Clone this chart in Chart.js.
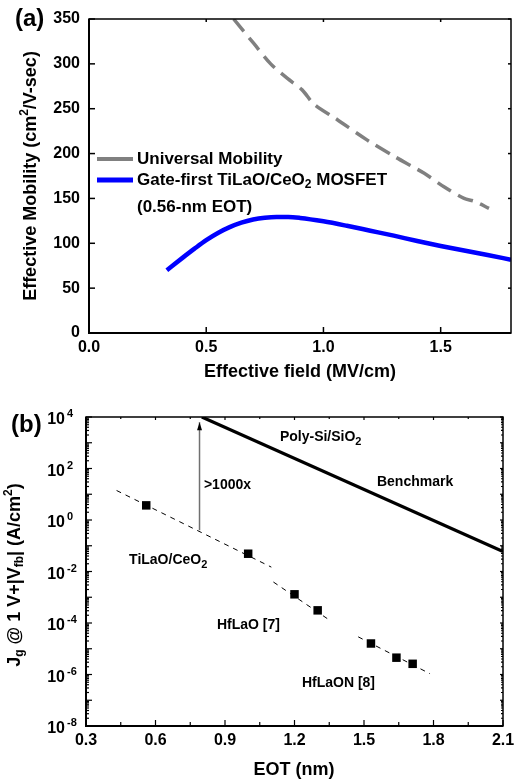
<!DOCTYPE html>
<html>
<head>
<meta charset="utf-8">
<script src="https://cdn.jsdelivr.net/npm/chart.js@4.4.0/dist/chart.umd.min.js"></script>
<style>
  body { margin: 0; background: #fff; width: 522px; height: 784px; overflow: hidden; }
  .box { position: absolute; left: 0; width: 522px; }
  #boxA { top: 0; height: 390px; }
  #boxB { top: 390px; height: 394px; }
</style>
</head>
<body>
<div class="box" id="boxA"><canvas id="chartA"></canvas></div>
<div class="box" id="boxB"><canvas id="chartB"></canvas></div>
<script>
// ---- (a) effective mobility ----
const fieldUniversal = [0.617, 0.702, 0.775, 0.845, 0.909, 0.96, 1.058, 1.187, 1.301, 1.43, 1.514, 1.6, 1.642, 1.706];
const mobUniversal   = [350, 323, 300, 284, 271, 255, 238, 215, 197, 178, 163, 150, 147, 139];
const fieldDevice = [0.332, 0.40, 0.45, 0.50, 0.55, 0.60, 0.65, 0.70, 0.75, 0.80, 0.85, 0.90, 1.0, 1.1, 1.2, 1.3, 1.4, 1.5, 1.6, 1.7, 1.8];
const mobDevice   = [70, 84, 94, 103.5, 111.5, 118, 123, 126.5, 128.5, 129.3, 129.3, 128.3, 124.5, 119.5, 114, 108.5, 102.5, 97, 92, 87, 81.6];
const mobTicks = [0, 50, 100, 150, 200, 250, 300, 350];
const fieldTicks = [0, 0.5, 1.0, 1.5];

// ---- (b) gate leakage vs EOT ----
const eotPoints = [0.56, 1.0, 1.2, 1.3, 1.53, 1.64, 1.71];
const jgPoints  = [3.7, 0.049, 1.3e-3, 3.1e-4, 1.6e-5, 4.5e-6, 2.6e-6];
const benchEot = [0.8, 2.1];
const benchJg  = [1e4, 0.06];
const fitTiLaOEot = [0.432, 1.10];
const fitTiLaOJg  = [14, 0.0148];
const fitHfLaOEot = [1.109, 1.353];
const fitHfLaOJg  = [3.9e-3, 1.26e-4];
const fitHfLaONEot = [1.475, 1.785];
const fitHfLaONJg  = [2.9e-5, 1.07e-6];
const arrowEot = [0.79, 0.79];
const arrowJg  = [0.4, 6300];
const eotTicks = [0.3, 0.6, 0.9, 1.2, 1.5, 1.8, 2.1];
const jgExponents = [4, 2, 0, -2, -4, -6, -8];

const FAM = '"Liberation Sans", Arial, sans-serif';
const font = px => 'bold ' + px + 'px ' + FAM;
const pts = (xs, ys) => xs.map((x, i) => ({ x: x, y: ys[i] }));

// text made of pieces, so sub/superscripts stay real text
function drawRich(ctx, parts, x, y, align) {
  let w = 0;
  parts.forEach(p => { ctx.font = font(p.s); p.w = ctx.measureText(p.t).width; w += p.w; });
  let cx = align === 'center' ? x - w / 2 : x;
  ctx.textAlign = 'left';
  ctx.textBaseline = 'middle';
  parts.forEach(p => { ctx.font = font(p.s); ctx.fillText(p.t, cx, y + (p.dy || 0)); cx += p.w; });
}
function drawRotated(ctx, parts, x, y) {
  ctx.save();
  ctx.translate(x, y);
  ctx.rotate(-Math.PI / 2);
  drawRich(ctx, parts, 0, 0, 'center');
  ctx.restore();
}
function line(ctx, x1, y1, x2, y2) {
  ctx.beginPath(); ctx.moveTo(x1, y1); ctx.lineTo(x2, y2); ctx.stroke();
}
function frame(ctx, a) {
  ctx.strokeStyle = '#000';
  ctx.lineWidth = 1.5;
  ctx.strokeRect(a.left, a.top, a.right - a.left, a.bottom - a.top);
  ctx.lineWidth = 2;
  line(ctx, a.left, a.top, a.left, a.bottom + 1);
  line(ctx, a.left - 1, a.bottom, a.right, a.bottom);
}

const decorA = {
  id: 'decorA',
  afterDraw(chart) {
    const ctx = chart.ctx, a = chart.chartArea;
    const xs = chart.scales.x, ys = chart.scales.y;
    ctx.save();
    frame(ctx, a);
    ctx.lineWidth = 1.5;
    mobTicks.forEach(v => {
      const y = ys.getPixelForValue(v);
      line(ctx, a.left, y, a.left + 6, y);
      line(ctx, a.right - 3, y, a.right, y);
    });
    fieldTicks.forEach(v => {
      const x = xs.getPixelForValue(v);
      line(ctx, x, a.bottom, x, a.bottom - 6);
      line(ctx, x, a.top, x, a.top + 3);
    });
    // legend
    ctx.lineCap = 'butt';
    ctx.strokeStyle = '#808080'; ctx.lineWidth = 4;
    line(ctx, 97, 159, 133, 159);
    ctx.strokeStyle = '#0000ff'; ctx.lineWidth = 5;
    line(ctx, 97, 180, 133, 180);
    ctx.fillStyle = '#000';
    drawRich(ctx, [{ t: 'Universal Mobility', s: 17 }], 137, 159);
    drawRich(ctx, [{ t: 'Gate-first TiLaO/CeO', s: 17 }, { t: '2', s: 12, dy: 5 }, { t: ' MOSFET', s: 17 }], 137, 180);
    drawRich(ctx, [{ t: '(0.56-nm EOT)', s: 17 }], 137, 207);
    // titles
    drawRich(ctx, [{ t: 'Effective field (MV/cm)', s: 18 }], 300, 372, 'center');
    drawRotated(ctx, [{ t: 'Effective Mobility (cm', s: 18 }, { t: '2', s: 12, dy: -6 }, { t: '/V-sec)', s: 18 }], 31, 176);
    drawRich(ctx, [{ t: '(a)', s: 24 }], 15, 19);
    ctx.restore();
  }
};

const decorB = {
  id: 'decorB',
  afterDraw(chart) {
    const ctx = chart.ctx, a = chart.chartArea;
    const xs = chart.scales.x, ys = chart.scales.y;
    ctx.save();
    frame(ctx, a);
    ctx.lineWidth = 1.2;
    eotTicks.forEach((v, i) => {
      const x = xs.getPixelForValue(v);
      line(ctx, x, a.bottom, x, a.bottom - 6);
      line(ctx, x, a.top, x, a.top + 3);
      if (i < eotTicks.length - 1) {
        const xm = xs.getPixelForValue(v + 0.15);
        line(ctx, xm, a.bottom, xm, a.bottom - 4);
        line(ctx, xm, a.top, xm, a.top + 2);
      }
    });
    for (let n = -8; n <= 4; n++) {
      for (let k = 1; k <= 9; k++) {
        if (n === 4 && k > 1) break;
        const y = ys.getPixelForValue(k * Math.pow(10, n));
        const major = k === 1;
        line(ctx, a.left, y, a.left + (major ? 6 : 3), y);
        line(ctx, a.right - (major ? 3 : 2), y, a.right, y);
      }
    }
    // y tick labels 10^n
    ctx.fillStyle = '#000';
    jgExponents.forEach(e => {
      const y = ys.getPixelForValue(Math.pow(10, e));
      ctx.font = font(16); ctx.textAlign = 'right'; ctx.textBaseline = 'middle';
      ctx.fillText('10', 65, y + 3);
      ctx.font = font(11); ctx.textAlign = 'left';
      ctx.fillText(String(e), 67, y - 3);
    });
    // arrowhead
    const ax = xs.getPixelForValue(arrowEot[1]), ay = ys.getPixelForValue(arrowJg[1]);
    ctx.fillStyle = '#000';
    ctx.beginPath(); ctx.moveTo(ax, ay); ctx.lineTo(ax - 2.5, ay + 8); ctx.lineTo(ax + 2.5, ay + 8); ctx.closePath(); ctx.fill();
    // annotations at data positions
    const at = (x, e) => [xs.getPixelForValue(x), ys.getPixelForValue(Math.pow(10, e))];
    let p;
    p = at(1.137, 3.22); drawRich(ctx, [{ t: 'Poly-Si/SiO', s: 14 }, { t: '2', s: 11, dy: 5 }], p[0], p[1]);
    p = at(1.556, 1.48); drawRich(ctx, [{ t: 'Benchmark', s: 14 }], p[0], p[1]);
    p = at(0.809, 1.36); drawRich(ctx, [{ t: '>1000x', s: 14 }], p[0], p[1]);
    p = at(0.486, -1.55); drawRich(ctx, [{ t: 'TiLaO/CeO', s: 14 }, { t: '2', s: 11, dy: 5 }], p[0], p[1]);
    p = at(0.865, -4.08); drawRich(ctx, [{ t: 'HfLaO [7]', s: 14 }], p[0], p[1]);
    p = at(1.232, -6.33); drawRich(ctx, [{ t: 'HfLaON [8]', s: 14 }], p[0], p[1]);
    // titles
    drawRich(ctx, [{ t: 'EOT (nm)', s: 18 }], 294, 380, 'center');
    drawRotated(ctx, [{ t: 'J', s: 18 }, { t: 'g', s: 12, dy: 5 }, { t: ' @ 1 V+|V', s: 18 }, { t: 'fb', s: 12, dy: 5 },
      { t: '| (A/cm', s: 18 }, { t: '2', s: 12, dy: -6 }, { t: ')', s: 18 }], 15, 185);
    drawRich(ctx, [{ t: '(b)', s: 24 }], 11, 35);
    ctx.restore();
  }
};

const tickFont = { family: FAM, size: 16, weight: 'bold' };

new Chart(document.getElementById('chartA'), {
  type: 'scatter',
  data: {
    datasets: [
      { data: pts(fieldUniversal, mobUniversal), showLine: true, borderColor: '#808080', borderWidth: 3.5,
        borderDash: [16, 8], pointRadius: 0, tension: 0.3 },
      { data: pts(fieldDevice, mobDevice), showLine: true, borderColor: '#0000ff', borderWidth: 4.5,
        pointRadius: 0, cubicInterpolationMode: 'monotone' }
    ]
  },
  options: {
    responsive: true, maintainAspectRatio: false, animation: false,
    layout: { padding: { top: 19, right: 11, left: 0, bottom: 0 } },
    plugins: { legend: { display: false }, tooltip: { enabled: false } },
    scales: {
      x: {
        type: 'linear', min: 0, max: 1.8,
        afterBuildTicks: s => { s.ticks = fieldTicks.map(v => ({ value: v })); },
        afterFit: s => { s.height = 57; },
        ticks: { color: '#000', font: tickFont, padding: 5, maxRotation: 0, callback: v => v.toFixed(1) },
        grid: { display: false, drawTicks: false }, border: { display: false }
      },
      y: {
        type: 'linear', min: 0, max: 350,
        afterBuildTicks: s => { s.ticks = mobTicks.map(v => ({ value: v })); },
        afterFit: s => { s.width = 89; },
        ticks: { color: '#000', font: tickFont, padding: 9 },
        grid: { display: false, drawTicks: false }, border: { display: false }
      }
    }
  },
  plugins: [decorA]
});

new Chart(document.getElementById('chartB'), {
  type: 'scatter',
  data: {
    datasets: [
      { data: pts(benchEot, benchJg), showLine: true, borderColor: '#000', borderWidth: 3.2, pointRadius: 0 },
      { data: pts(fitTiLaOEot, fitTiLaOJg), showLine: true, borderColor: '#000', borderWidth: 1, borderDash: [5, 5], pointRadius: 0 },
      { data: pts(fitHfLaOEot, fitHfLaOJg), showLine: true, borderColor: '#000', borderWidth: 1, borderDash: [5, 5], pointRadius: 0 },
      { data: pts(fitHfLaONEot, fitHfLaONJg), showLine: true, borderColor: '#000', borderWidth: 1, borderDash: [5, 5], pointRadius: 0 },
      { data: pts(arrowEot, arrowJg), showLine: true, borderColor: '#707070', borderWidth: 1.5, pointRadius: 0 },
      { data: pts(eotPoints, jgPoints), showLine: false, pointStyle: 'rect', pointRadius: 6,
        backgroundColor: '#000', borderColor: '#000', borderWidth: 0 }
    ]
  },
  options: {
    responsive: true, maintainAspectRatio: false, animation: false,
    layout: { padding: { top: 27, right: 19, left: 0, bottom: 0 } },
    plugins: { legend: { display: false }, tooltip: { enabled: false } },
    scales: {
      x: {
        type: 'linear', min: 0.3, max: 2.1,
        afterBuildTicks: s => { s.ticks = eotTicks.map(v => ({ value: v })); },
        afterFit: s => { s.height = 58; },
        ticks: { color: '#000', font: tickFont, padding: 5, maxRotation: 0, callback: v => v.toFixed(1) },
        grid: { display: false, drawTicks: false }, border: { display: false }
      },
      y: {
        type: 'logarithmic', min: 1e-8, max: 1e4,
        afterFit: s => { s.width = 86; },
        ticks: { display: false },
        grid: { display: false, drawTicks: false }, border: { display: false }
      }
    }
  },
  plugins: [decorB]
});
</script>
</body>
</html>
